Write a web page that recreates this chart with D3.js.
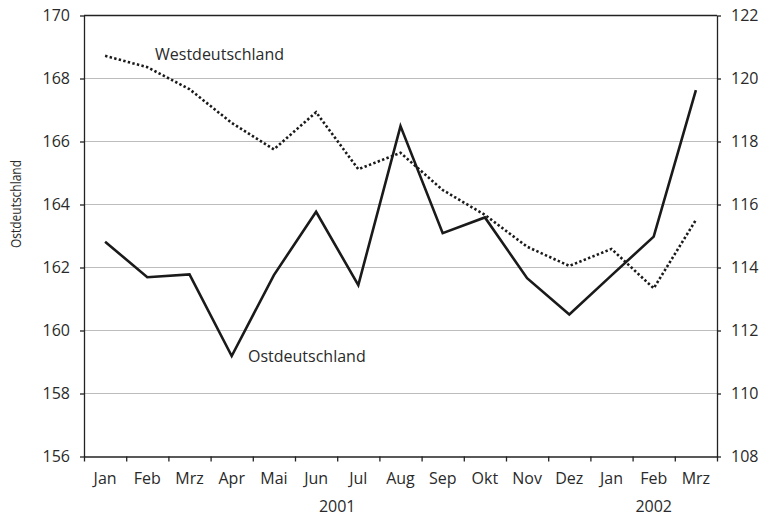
<!DOCTYPE html>
<head>
    <meta charset="utf-8">
    <title>Ost / West</title>
    <script src="https://cdn.jsdelivr.net/npm/d3@7"></script>
</head>
<style>
    body { margin: 0; background: #fff; }
    text { font-family: 'Open Sans', sans-serif; fill: #2a2a2a; }
    .grid line { stroke: #bdbdbd; stroke-width: 1px; }
    .axis path, .axis line { stroke: #222; stroke-width: 1.3px; }
    .ost { fill: none; stroke: #1a1a1a; stroke-width: 2.6px; stroke-linejoin: miter; }
    .west { fill: none; stroke: #1a1a1a; stroke-width: 2.6px; stroke-dasharray: 2.4, 2.3; }
</style>
<body>
    <svg></svg>
</body>

<script>
    var months = ['Jan', 'Feb', 'Mrz', 'Apr', 'Mai', 'Jun', 'Jul', 'Aug', 'Sep', 'Okt', 'Nov', 'Dez', 'Jan', 'Feb', 'Mrz'];
    var years = [{label: '2001', from: 0, to: 12}, {label: '2002', from: 12, to: 15}];
    // Ostdeutschland, left axis
    var ost = [162.82, 161.69, 161.78, 159.19, 161.76, 163.77, 161.44, 166.49, 163.09, 163.59, 161.66, 160.51, 161.75, 162.98, 167.63];
    // Westdeutschland, right axis
    var west = [120.72, 120.36, 119.66, 118.59, 117.75, 118.93, 117.12, 117.64, 116.46, 115.67, 114.66, 114.05, 114.59, 113.34, 115.51];
    var leftTicks = [156, 158, 160, 162, 164, 166, 168, 170];
    var rightTicks = [108, 110, 112, 114, 116, 118, 120, 122];

    var vWidth = 764;
    var vHeight = 515;
    var plot = {left: 84, right: 717, top: 15.5, bottom: 456.5};

    var svg = d3.select('svg')
        .attr('width', vWidth)
        .attr('height', vHeight);

    var x = d3.scaleLinear().domain([0, months.length]).range([plot.left, plot.right]);
    var yL = d3.scaleLinear().domain([156, 170]).range([plot.bottom, plot.top]);
    var yR = d3.scaleLinear().domain([108, 122]).range([plot.bottom, plot.top]);

    // gridlines
    svg.append('g').attr('class', 'grid')
        .selectAll('line')
        .data(leftTicks.slice(1, -1))
        .enter().append('line')
        .attr('x1', plot.left).attr('x2', plot.right)
        .attr('y1', function (d) { return yL(d); })
        .attr('y2', function (d) { return yL(d); });

    // frame top
    svg.append('line')
        .attr('x1', plot.left).attr('x2', plot.right)
        .attr('y1', plot.top).attr('y2', plot.top)
        .style('stroke', '#222').style('stroke-width', '1.3px');

    // axes
    svg.append('g').attr('class', 'axis')
        .attr('transform', 'translate(' + plot.left + ',0)')
        .call(d3.axisLeft(yL).tickValues(leftTicks).tickSize(4).tickPadding(10).tickSizeOuter(0))
        .selectAll('text').style('font-size', '16px');

    svg.append('g').attr('class', 'axis')
        .attr('transform', 'translate(' + plot.right + ',0)')
        .call(d3.axisRight(yR).tickValues(rightTicks).tickSize(4).tickPadding(10).tickSizeOuter(0))
        .selectAll('text').style('font-size', '16px');

    var xAxis = svg.append('g').attr('class', 'axis')
        .attr('transform', 'translate(0,' + plot.bottom + ')')
        .call(d3.axisBottom(x).tickValues(d3.range(months.length + 1)).tickFormat('').tickSize(5).tickSizeOuter(0));

    svg.append('g').selectAll('text')
        .data(months)
        .enter().append('text')
        .attr('x', function (d, i) { return x(i + 0.5); })
        .attr('y', plot.bottom + 27)
        .attr('text-anchor', 'middle')
        .style('font-size', '16px')
        .text(function (d) { return d; });

    svg.append('g').selectAll('text')
        .data(years)
        .enter().append('text')
        .attr('x', function (d) { return x((d.from + d.to) / 2); })
        .attr('y', plot.bottom + 55)
        .attr('text-anchor', 'middle')
        .style('font-size', '16px')
        .text(function (d) { return d.label; });

    // axis title
    svg.append('text')
        .attr('transform', 'translate(21,' + 204 + ') rotate(-90)')
        .attr('text-anchor', 'middle')
        .attr('textLength', 88)
        .attr('lengthAdjust', 'spacingAndGlyphs')
        .style('font-size', '15px')
        .text('Ostdeutschland');

    // lines
    var lineL = d3.line()
        .x(function (d, i) { return x(i + 0.5); })
        .y(function (d) { return yL(d); });
    var lineR = d3.line()
        .x(function (d, i) { return x(i + 0.5); })
        .y(function (d) { return yR(d); });

    svg.append('path').datum(west).attr('class', 'west').attr('d', lineR);
    svg.append('path').datum(ost).attr('class', 'ost').attr('d', lineL);

    // series labels
    svg.append('text')
        .attr('x', 155).attr('y', 60)
        .style('font-size', '16px')
        .text('Westdeutschland');
    svg.append('text')
        .attr('x', 248).attr('y', 362)
        .style('font-size', '16px')
        .text('Ostdeutschland');
</script>
